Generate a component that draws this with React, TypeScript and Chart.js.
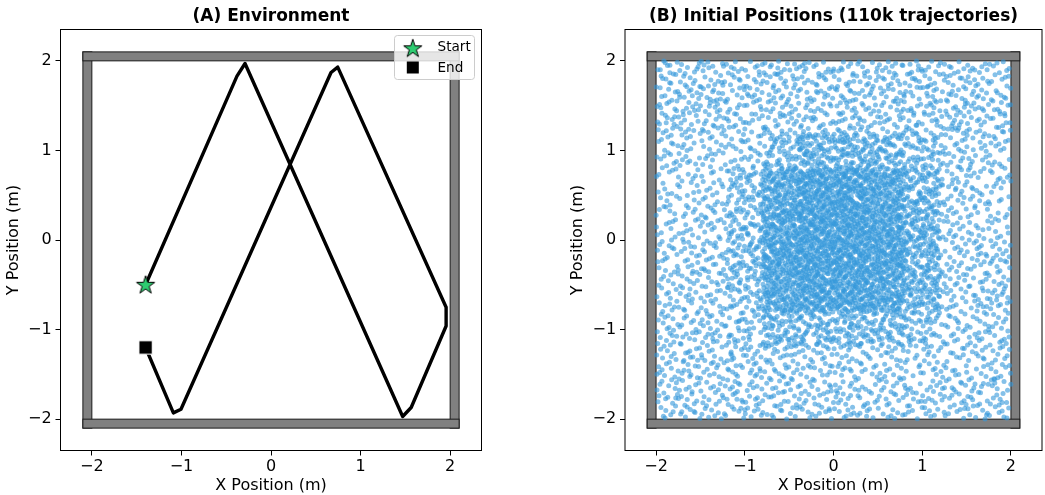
import React, { useEffect, useRef } from 'react';
import { Chart, registerables } from 'chart.js';

Chart.register(...registerables);

const FONT = "'DejaVu Sans', 'Liberation Sans', sans-serif";

// ---- axes ----
const axisMin = -2.35;
const axisMax = 2.35;
const tickValues = [-2, -1, 0, 1, 2];

// ---- panel titles / labels ----
const titleA = '(A) Environment';
const titleB = '(B) Initial Positions (110k trajectories)';
const xLabel = 'X Position (m)';
const yLabel = 'Y Position (m)';
const legendLabels = ['Start', 'End'];

// ---- (A) trajectory ----
const pathX = [-1.4, -0.38, -0.29, 1.47, 1.565, 1.955, 1.955, 0.745, 0.67, -1.005, -1.09, -1.4];
const pathY = [-0.5, 1.83, 1.97, -1.97, -1.87, -0.96, -0.75, 1.93, 1.87, -1.89, -1.93, -1.2];
const startX = [-1.4];
const startY = [-0.5];
const endX = [-1.4];
const endY = [-1.2];

// ---- walls (left, right, top, bottom) ----
const wallX0 = [-2.1, 2.0, -2.1, -2.1];
const wallX1 = [-2.0, 2.1, 2.1, 2.1];
const wallY0 = [-2.1, -2.1, 2.0, -2.1];
const wallY1 = [2.1, 2.1, 2.1, -2.0];

// ---- (B) initial positions: point counts per 0.4 m cell
// rows from top (y 2.0..1.6) to bottom (y -1.6..-2.0), columns from x -2.0 to 2.0
const densityRows = [
  [34, 36, 34, 36, 36, 36, 36, 34, 34, 30],
  [36, 36, 32, 34, 36, 36, 34, 36, 40, 34],
  [28, 28, 30, 55, 80, 80, 70, 50, 32, 28],
  [22, 24, 50, 115, 145, 145, 125, 80, 30, 24],
  [24, 28, 55, 130, 150, 150, 135, 85, 30, 24],
  [28, 32, 55, 135, 150, 150, 140, 85, 30, 32],
  [30, 28, 50, 125, 140, 140, 125, 80, 30, 32],
  [32, 32, 38, 65, 65, 65, 65, 50, 28, 32],
  [32, 32, 34, 34, 30, 32, 28, 26, 28, 32],
  [32, 32, 32, 32, 32, 32, 30, 32, 32, 32],
];
const fieldMin = -2;
const fieldMax = 2;

// deterministic (non-random) low-discrepancy placement of the cell counts
function radicalInverse(i: number, b: number) {
  let f = 1;
  let r = 0;
  while (i > 0) {
    f /= b;
    r += f * (i % b);
    i = Math.floor(i / b);
  }
  return r;
}
function buildPositions() {
  const n = densityRows.length;
  let maxD = 0;
  densityRows.forEach((row) => row.forEach((d) => (maxD = Math.max(maxD, d))));
  const candidates = n * n * maxD;
  const pts: { x: number; y: number }[] = [];
  const span = fieldMax - fieldMin;
  for (let i = 1; i <= candidates; i++) {
    const u = radicalInverse(i, 2);
    const v = radicalInverse(i, 3);
    const w = radicalInverse(i, 5);
    const col = Math.min(n - 1, Math.floor(u * n));
    const row = Math.min(n - 1, Math.floor((1 - v) * n));
    if (w < densityRows[row][col] / maxD) {
      pts.push({ x: fieldMin + span * u, y: fieldMin + span * v });
    }
  }
  return pts;
}

function fmtTick(v: number) {
  return v < 0 ? '\u2212' + Math.abs(v) : String(v);
}

function makeStar() {
  const c = document.createElement('canvas');
  c.width = 22;
  c.height = 22;
  const ctx = c.getContext('2d')!;
  const R = 9.6;
  const r = R * 0.381966;
  ctx.beginPath();
  for (let k = 0; k < 10; k++) {
    const a = -Math.PI / 2 + (k * Math.PI) / 5;
    const rr = k % 2 === 0 ? R : r;
    const px = 11 + rr * Math.cos(a);
    const py = 11.5 + rr * Math.sin(a);
    if (k === 0) ctx.moveTo(px, py);
    else ctx.lineTo(px, py);
  }
  ctx.closePath();
  ctx.fillStyle = '#2ecc71';
  ctx.fill();
  ctx.strokeStyle = '#000';
  ctx.lineWidth = 1;
  ctx.stroke();
  return c;
}

function makeScales(yWidth: number) {
  const common = (label: string, isX: boolean) => ({
    type: 'linear',
    min: axisMin,
    max: axisMax,
    afterBuildTicks: (s: any) => {
      s.ticks = tickValues.map((v) => ({ value: v }));
    },
    afterFit: (s: any) => {
      if (isX) s.height = 44.5;
      else s.width = yWidth;
    },
    grid: { drawOnChartArea: false, drawTicks: true, tickLength: 5, color: '#000', lineWidth: 1 },
    border: { display: false },
    ticks: {
      color: '#000',
      padding: isX ? 2 : 3.8,
      autoSkip: false,
      maxRotation: 0,
      font: { family: FONT, size: 16 },
      callback: (v: any) => fmtTick(Number(v)),
    },
    title: {
      display: true,
      text: label,
      color: '#000',
      font: { family: FONT, size: 16, lineHeight: 1.1 },
      padding: isX ? { top: 0, bottom: 0 } : { top: 5.4, bottom: 0 },
    },
  });
  return { x: common(xLabel, true), y: common(yLabel, false) };
}

const decorPlugin = {
  id: 'decor',
  beforeDatasetsDraw(chart: any) {
    const { ctx, scales } = chart;
    const xs = scales.x;
    const ys = scales.y;
    ctx.save();
    for (let i = 0; i < wallX0.length; i++) {
      const x0 = xs.getPixelForValue(wallX0[i]);
      const x1 = xs.getPixelForValue(wallX1[i]);
      const y0 = ys.getPixelForValue(wallY1[i]);
      const y1 = ys.getPixelForValue(wallY0[i]);
      ctx.fillStyle = '#808080';
      ctx.fillRect(x0, y0, x1 - x0, y1 - y0);
      ctx.strokeStyle = '#1a1a1a';
      ctx.lineWidth = 1;
      ctx.strokeRect(x0, y0, x1 - x0, y1 - y0);
    }
    ctx.restore();
  },
  afterDraw(chart: any) {
    const { ctx, chartArea: ca } = chart;
    const opts = chart.options.plugins.decor || {};
    ctx.save();
    // frame (all four spines)
    ctx.strokeStyle = '#000';
    ctx.lineWidth = 1;
    ctx.strokeRect(ca.left, ca.top, ca.right - ca.left, ca.bottom - ca.top);
    // title
    ctx.fillStyle = '#000';
    ctx.font = `bold 17px ${FONT}`;
    ctx.textAlign = 'center';
    ctx.textBaseline = 'alphabetic';
    ctx.fillText(opts.title || '', (ca.left + ca.right) / 2, 21);
    // legend
    if (opts.legend) {
      const bx = ca.right - 87;
      const by = ca.top + 6;
      const bw = 80;
      const bh = 44;
      ctx.beginPath();
      ctx.roundRect(bx, by, bw, bh, 3);
      ctx.fillStyle = 'rgba(255,255,255,0.8)';
      ctx.fill();
      ctx.strokeStyle = '#cccccc';
      ctx.lineWidth = 1;
      ctx.stroke();
      const star = opts.star as HTMLCanvasElement;
      ctx.drawImage(star, bx + 18.3 - star.width / 2, by + 12.8 - star.height / 2);
      ctx.fillStyle = '#000';
      ctx.fillRect(bx + 18.3 - 6, by + 32 - 6, 12, 12);
      ctx.font = `13.6px ${FONT}`;
      ctx.textAlign = 'left';
      ctx.fillStyle = '#000';
      ctx.fillText(legendLabels[0], bx + 43, by + 15.8);
      ctx.fillText(legendLabels[1], bx + 43, by + 36.7);
    }
    ctx.restore();
  },
};

export default function App() {
  const refA = useRef<HTMLCanvasElement>(null);
  const refB = useRef<HTMLCanvasElement>(null);

  useEffect(() => {
    const star = makeStar();
    const chartA = new Chart(refA.current!, {
      type: 'scatter',
      data: {
        datasets: [
          {
            label: legendLabels[0],
            data: startX.map((x, i) => ({ x, y: startY[i] })),
            pointStyle: star as any,
            pointRadius: 10,
          },
          {
            label: legendLabels[1],
            data: endX.map((x, i) => ({ x, y: endY[i] })),
            pointStyle: 'rect',
            pointRadius: 9.4,
            backgroundColor: '#000',
            borderColor: '#fff',
            borderWidth: 1,
          },
          {
            label: 'Trajectory',
            data: pathX.map((x, i) => ({ x, y: pathY[i] })),
            showLine: true,
            borderColor: '#000',
            borderWidth: 3.4,
            pointRadius: 0,
            tension: 0,
            borderJoinStyle: 'round',
            borderCapStyle: 'round',
          },
        ],
      } as any,
      options: {
        responsive: false,
        animation: false,
        devicePixelRatio: 1,
        layout: { padding: { left: 0, right: 38.5, top: 29.5, bottom: 0 } },
        scales: makeScales(60.5) as any,
        plugins: {
          legend: { display: false },
          tooltip: { enabled: false },
          decor: { title: titleA, legend: true, star },
        } as any,
      },
      plugins: [decorPlugin],
    });

    const positions = buildPositions();
    const chartB = new Chart(refB.current!, {
      type: 'scatter',
      data: {
        datasets: [
          {
            label: 'Initial positions',
            data: positions,
            pointRadius: 2.5,
            borderWidth: 0,
            backgroundColor: 'rgba(52,152,219,0.6)',
          },
        ],
      } as any,
      options: {
        responsive: false,
        animation: false,
        devicePixelRatio: 1,
        layout: { padding: { left: 0, right: 0.5, top: 29.5, bottom: 0 } },
        scales: makeScales(61) as any,
        plugins: {
          legend: { display: false },
          tooltip: { enabled: false },
          decor: { title: titleB, legend: false },
        } as any,
      },
      plugins: [decorPlugin],
    });

    return () => {
      chartA.destroy();
      chartB.destroy();
    };
  }, []);

  return (
    <div
      style={{
        position: 'fixed',
        left: 0,
        top: 0,
        width: 1045,
        height: 495,
        overflow: 'hidden',
        background: '#fff',
      }}
    >
      <canvas
        ref={refA}
        width={520}
        height={495}
        style={{ position: 'absolute', left: 0, top: 0, width: 520, height: 495 }}
      />
      <canvas
        ref={refB}
        width={482}
        height={495}
        style={{ position: 'absolute', left: 564, top: 0, width: 482, height: 495 }}
      />
    </div>
  );
}
